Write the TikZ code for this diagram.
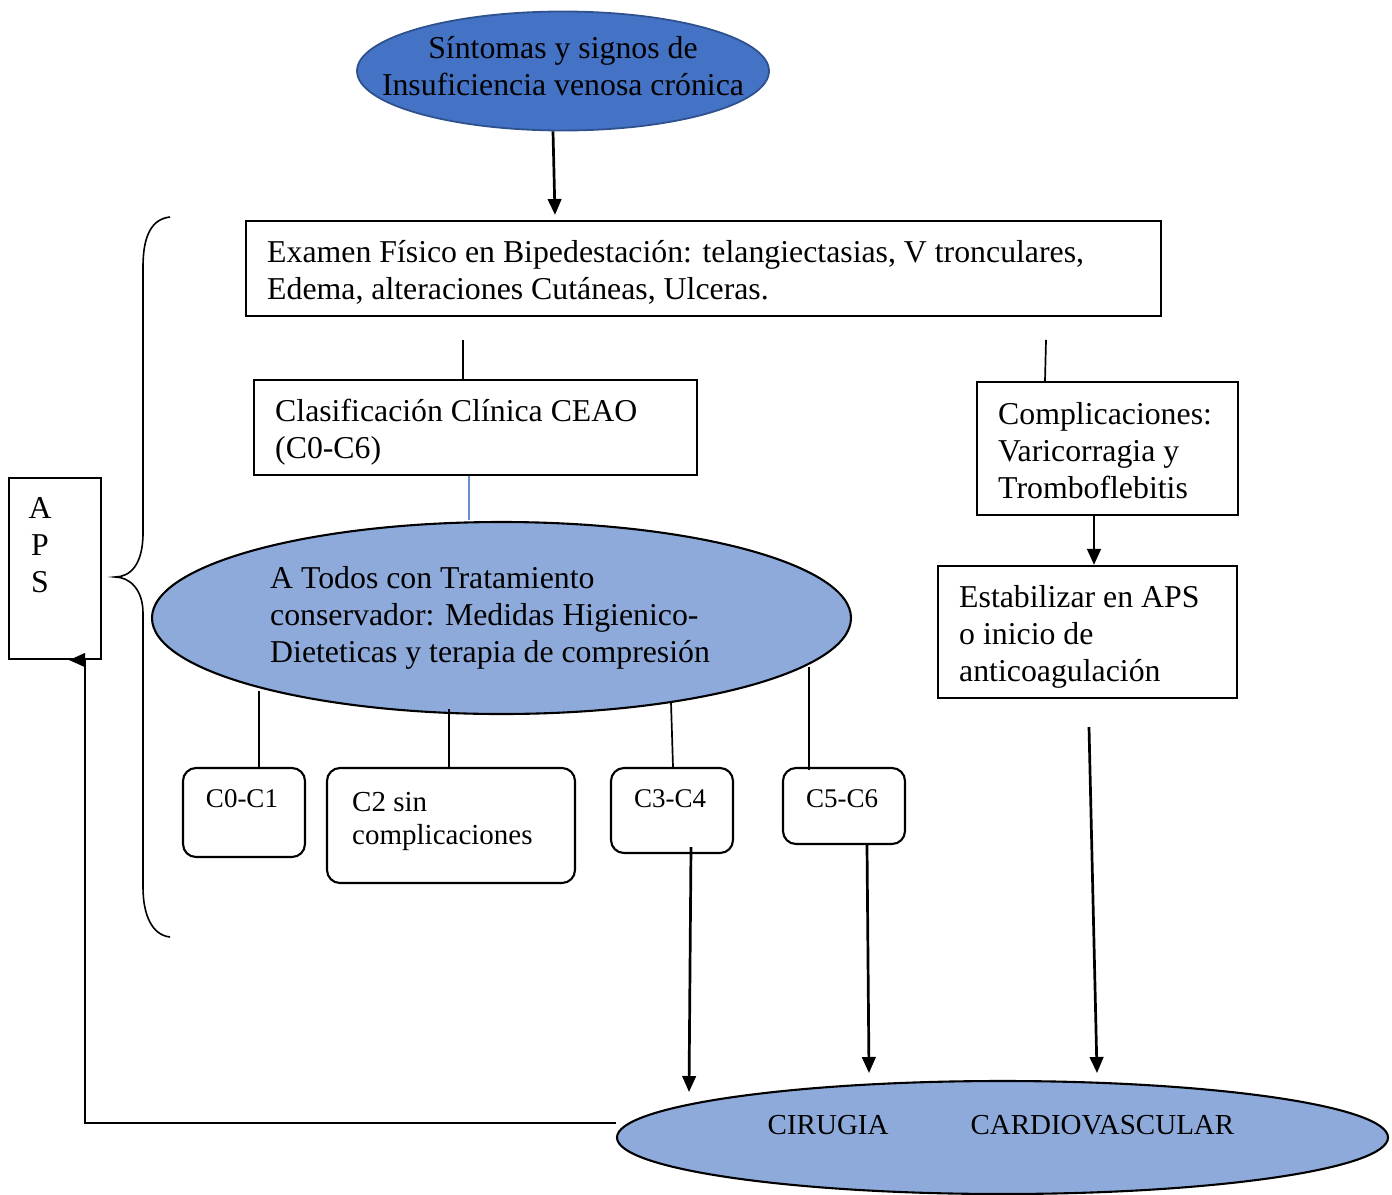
\documentclass[tikz,border=0pt]{standalone}
\usepackage{fontspec}
\setmainfont{Liberation Serif}
\usetikzlibrary{shapes.geometric,arrows.meta}
\definecolor{darkblue}{HTML}{4472C4}
\definecolor{lightblue}{HTML}{8EAADB}
\definecolor{edgeblue}{HTML}{2F528F}
\begin{document}
\begin{tikzpicture}[x=1pt,y=-1pt,
  main/.style={font=\fontsize{31.8}{37}\selectfont},
  small/.style={font=\fontsize{27}{33}\selectfont},
  box/.style={draw,line width=2.1pt,inner sep=0pt},
  rbox/.style={draw,line width=2.1pt,rounded corners=13pt,inner sep=0pt},
  txt/.style={main,align=left,anchor=west,inner sep=0pt},
  arr/.style={line width=2.7pt,-{Triangle[length=16pt,width=13.5pt]}},
  thinline/.style={line width=1.7pt},
  ell/.style={ellipse,draw,line width=2.1pt,fill=lightblue,inner sep=0pt}]

\useasboundingbox (0,0) rectangle (1392,1194);

% top ellipse
\node[ellipse,draw=edgeblue,fill=darkblue,line width=1.8pt,minimum width=412pt,minimum height=119pt,inner sep=0pt] (top) at (563,71) {};
\node[main,align=center,inner sep=0pt] (topt) at (563,66) {Síntomas y signos de\\Insuficiencia venosa crónica};

% examen box
\node[box,minimum width=915pt,minimum height=95pt] (exam) at (703.5,268.5) {};
\node[txt] (examt) at (267,272.5) {Examen Físico en Bipedestación: telangiectasias, V tronculares,\\Edema, alteraciones Cutáneas, Ulceras.};

% clasificacion
\node[box,minimum width=443pt,minimum height=95pt] (clas) at (475.5,427.5) {};
\node[txt] (clast) at (275,432.5) {Clasificación Clínica CEAO\\(C0-C6)};

% complicaciones
\node[box,minimum width=261pt,minimum height=133pt] (comp) at (1107.5,448.5) {};
\node[txt] (compt) at (998,450.5) {Complicaciones:\\Varicorragia y\\Tromboflebitis};

% estabilizar
\node[box,minimum width=299pt,minimum height=132pt] (estab) at (1087.5,632) {};
\node[txt] (estabt) at (959,637) {Estabilizar en APS\\o inicio de\\anticoagulación};

% APS
\node[box,minimum width=92pt,minimum height=181pt] (aps) at (55,568.5) {};
\node[main,align=center,inner sep=0pt] (apst) at (40,545) {A\\P\\S};

% middle ellipse
\node[ell,minimum width=699pt,minimum height=192pt] (mid) at (501.5,618) {};
\node[txt] (midt) at (270,618) {A Todos con Tratamiento\\conservador: Medidas Higienico-\\Dieteticas y terapia de compresión};

% small boxes
\node[rbox,minimum width=122pt,minimum height=89pt] (c01) at (244,812.5) {};
\node[small,inner sep=0pt] (c01t) at (242,799) {C0-C1};
\node[rbox,minimum width=248pt,minimum height=115pt] (c2) at (451,825.5) {};
\node[txt,font=\fontsize{29}{33}\selectfont] (c2t) at (352,821) {C2 sin\\complicaciones};
\node[rbox,minimum width=122pt,minimum height=85pt] (c34) at (672,810.5) {};
\node[small,inner sep=0pt] (c34t) at (670,799) {C3-C4};
\node[rbox,minimum width=122pt,minimum height=76pt] (c56) at (844,806) {};
\node[small,inner sep=0pt] (c56t) at (842,799) {C5-C6};

% bottom ellipse
\node[ell,minimum width=771pt,minimum height=113pt] (bot) at (1002.5,1137.5) {};
\node[font=\fontsize{29}{33}\selectfont,inner sep=0pt] (bott) at (1001,1125) {CIRUGIA\hspace{82pt}CARDIOVASCULAR};

% connectors
\draw[arr] ([xshift=-10pt]top.south) -- ([xshift=-148.5pt,yshift=5pt]exam.north);
\draw[thinline] ([xshift=-12.5pt]clas.north) -- ++(0,-39);
\draw[thinline] ([xshift=-62.5pt]comp.north) -- ++(1,-41);
\draw[line width=1.3pt,darkblue!80] ([xshift=-6.5pt]clas.south) -- ++(0,44);
\draw[arr] ([xshift=-13.5pt]comp.south) -- ([xshift=6.5pt]estab.north);

\draw[thinline] ([xshift=15pt]c01.north) -- ++(0,-76);
\draw[thinline] ([xshift=-2pt]c2.north) -- ++(0,-58);
\draw[thinline] ([xshift=1pt]c34.north) -- ++(-2,-65);
\draw[thinline] ([xshift=-35pt,yshift=-3pt]c56.north) -- ++(0,-103);

\draw[arr] ([xshift=19pt,yshift=7pt]c34.south) -- ([xshift=-313.5pt,yshift=45.5pt]bot.center);
\draw[arr] ([xshift=23pt]c56.south) -- ([xshift=-133.5pt,yshift=64.5pt]bot.center);
\draw[arr] ([xshift=1.5pt,yshift=-28pt]estab.south) -- ([xshift=94.5pt,yshift=64.5pt]bot.center);

\draw[arr] ([yshift=14.5pt]bot.west) -| ([xshift=30pt]aps.south) -- ([xshift=14pt]aps.south);

% brace
\draw[line width=1.6pt] (170,217) .. controls (152,219) and (143,235) .. (143,267) -- (143,533)
  .. controls (143,565) and (130,577) .. (115,577)
  .. controls (130,577) and (143,590) .. (143,613) -- (143,887)
  .. controls (143,915) and (152,935) .. (170,937);
\end{tikzpicture}
\end{document}
